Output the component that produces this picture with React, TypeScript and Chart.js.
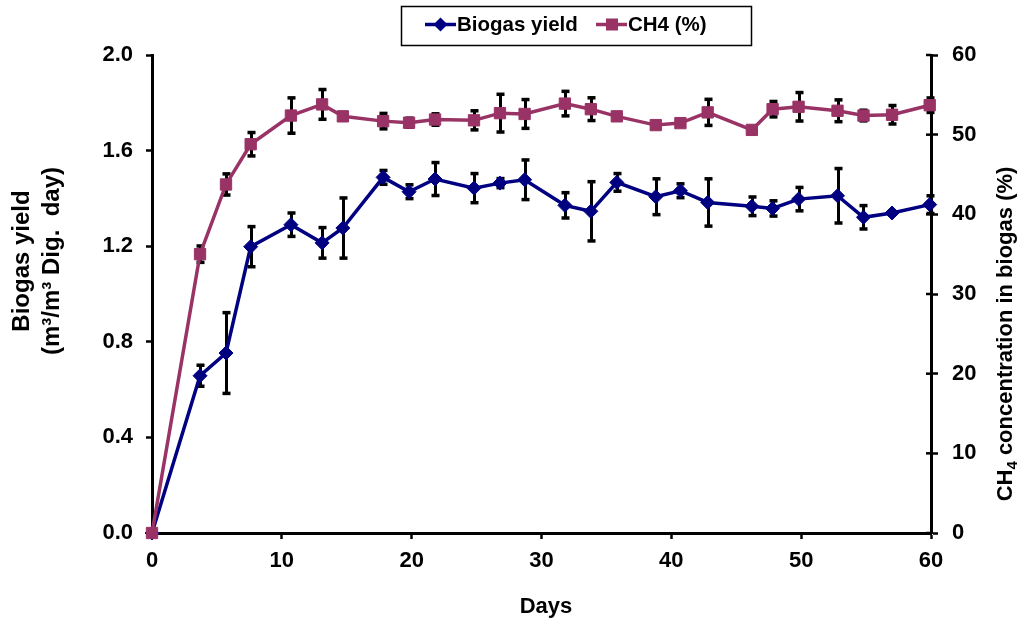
import React, { useEffect, useRef } from 'react';
import { Chart, registerables } from 'chart.js';

Chart.register(...registerables);

// ---- Data ----
const days = [0, 3.7, 5.7, 7.6, 10.7, 13.1, 14.7, 17.8, 19.8, 21.8, 24.8, 26.8, 28.7, 31.8, 33.8, 35.8, 38.8, 40.7, 42.8, 46.2, 47.8, 49.8, 52.8, 54.8, 57.0, 59.9];
const biogasYield = [0, 0.658, 0.753, 1.198, 1.29, 1.214, 1.276, 1.488, 1.428, 1.481, 1.443, 1.464, 1.478, 1.371, 1.346, 1.467, 1.407, 1.432, 1.383, 1.367, 1.358, 1.397, 1.411, 1.321, 1.339, 1.374];
const biogasErr = [0, 0.045, 0.17, 0.085, 0.05, 0.065, 0.127, 0.03, 0.03, 0.07, 0.062, 0.02, 0.084, 0.054, 0.125, 0.038, 0.076, 0.03, 0.1, 0.04, 0.033, 0.05, 0.115, 0.05, 0, 0.038];
const ch4Percent = [0, 35.0, 43.75, 48.8, 52.4, 53.8, 52.3, 51.7, 51.5, 51.9, 51.8, 52.7, 52.6, 53.9, 53.2, 52.3, 51.2, 51.45, 52.8, 50.6, 53.2, 53.5, 53.0, 52.4, 52.5, 53.7];
const ch4Err = [0, 1.06, 1.36, 1.5, 2.25, 1.9, 0.5, 1.0, 0.6, 0.75, 1.23, 2.4, 1.84, 1.57, 1.46, 0.3, 0.3, 0.3, 1.67, 0.3, 1.0, 1.82, 1.4, 0.7, 1.19, 0.94];

const seriesNames = ['Biogas yield', 'CH4 (%)'];
const xTitle = 'Days';
const leftTitleLines = ['Biogas yield', '(m³/m³ Dig.  day)'];
const rightTitleParts = ['CH', '4', ' concentration in biogas (%)'];

const FONT = '"Liberation Sans", Arial, Helvetica, sans-serif';
const BLUE = '#000080';
const MAGENTA = '#993366';

const errorBarPlugin = {
  id: 'errorBars',
  beforeDatasetsDraw(chart: any) {
    const ctx = chart.ctx;
    const xs = chart.scales.x;
    const draw = (vals: number[], errs: number[], scale: any) => {
      vals.forEach((v, i) => {
        const e = errs[i];
        if (!e) return;
        const px = Math.round(xs.getPixelForValue(days[i])) + 0.5;
        const top = scale.getPixelForValue(v + e);
        const bot = scale.getPixelForValue(v - e);
        ctx.beginPath();
        ctx.moveTo(px, top);
        ctx.lineTo(px, bot);
        ctx.stroke();
        ctx.fillRect(px - 4, top - 1.5, 8, 3.5);
        ctx.fillRect(px - 4, bot - 2, 8, 3.5);
      });
    };
    ctx.save();
    ctx.strokeStyle = '#000';
    ctx.fillStyle = '#000';
    ctx.lineWidth = 3;
    ctx.lineCap = 'butt';
    draw(ch4Percent, ch4Err, chart.scales.y1);
    draw(biogasYield, biogasErr, chart.scales.y);
    ctx.restore();
  },
};

function drawDiamond(ctx: CanvasRenderingContext2D, x: number, y: number, r: number, color: string) {
  ctx.beginPath();
  ctx.moveTo(x, y - r);
  ctx.lineTo(x + r, y);
  ctx.lineTo(x, y + r);
  ctx.lineTo(x - r, y);
  ctx.closePath();
  ctx.fillStyle = color;
  ctx.fill();
}

const decorPlugin = {
  id: 'decor',
  afterDraw(chart: any) {
    const ctx: CanvasRenderingContext2D = chart.ctx;
    const area = chart.chartArea;
    const y1 = chart.scales.y1;
    ctx.save();

    // inward part of right-axis cross ticks
    ctx.strokeStyle = '#000';
    ctx.lineWidth = 2.5;
    for (let v = 0; v <= 60; v += 10) {
      const py = y1.getPixelForValue(v);
      ctx.beginPath();
      ctx.moveTo(area.right - 5, py);
      ctx.lineTo(area.right, py);
      ctx.stroke();
    }

    ctx.fillStyle = '#000';
    // x title
    ctx.font = 'bold 22px ' + FONT;
    ctx.textAlign = 'center';
    ctx.textBaseline = 'alphabetic';
    ctx.fillText(xTitle, 546, 613);

    // left title (two lines)
    ctx.save();
    ctx.font = 'bold 24px ' + FONT;
    ctx.translate(29, 261);
    ctx.rotate(-Math.PI / 2);
    ctx.fillText(leftTitleLines[0], 0, 0);
    ctx.fillText(leftTitleLines[1], 0, 29.5);
    ctx.restore();

    // right title with subscript
    ctx.save();
    ctx.translate(1012, 334);
    ctx.rotate(-Math.PI / 2);
    const big = 'bold 22px ' + FONT;
    const small = 'bold 15px ' + FONT;
    ctx.font = big;
    const w1 = ctx.measureText(rightTitleParts[0]).width;
    const w3 = ctx.measureText(rightTitleParts[2]).width;
    ctx.font = small;
    const w2 = ctx.measureText(rightTitleParts[1]).width;
    let sx = -(w1 + w2 + w3) / 2;
    ctx.textAlign = 'left';
    ctx.font = big;
    ctx.fillText(rightTitleParts[0], sx, 0);
    sx += w1;
    ctx.font = small;
    ctx.fillText(rightTitleParts[1], sx, 5);
    sx += w2;
    ctx.font = big;
    ctx.fillText(rightTitleParts[2], sx, 0);
    ctx.restore();

    // legend
    ctx.strokeStyle = '#000';
    ctx.lineWidth = 1.5;
    ctx.strokeRect(401.5, 6.5, 350, 39);
    const ly = 24.5;
    ctx.lineWidth = 3.5;
    ctx.strokeStyle = BLUE;
    ctx.beginPath();
    ctx.moveTo(425, ly);
    ctx.lineTo(456, ly);
    ctx.stroke();
    drawDiamond(ctx, 440.5, ly, 7, BLUE);
    ctx.strokeStyle = MAGENTA;
    ctx.beginPath();
    ctx.moveTo(596, ly);
    ctx.lineTo(627, ly);
    ctx.stroke();
    ctx.fillStyle = MAGENTA;
    ctx.fillRect(606, ly - 6, 12, 12);
    ctx.fillStyle = '#000';
    ctx.font = 'bold 20.5px ' + FONT;
    ctx.textAlign = 'left';
    ctx.fillText(seriesNames[0], 457, 31);
    ctx.fillText(seriesNames[1], 628, 31);

    ctx.restore();
  },
};

export default function App() {
  const ref = useRef<HTMLCanvasElement>(null);
  useEffect(() => {
    const tickFont = { family: FONT, size: 22, weight: 'bold' as const };
    const chart = new Chart(ref.current as HTMLCanvasElement, {
      type: 'line',
      data: {
        datasets: [
          {
            label: seriesNames[0],
            data: days.map((d, i) => ({ x: d, y: biogasYield[i] })),
            borderColor: BLUE,
            backgroundColor: BLUE,
            borderWidth: 3.5,
            pointStyle: 'rectRot',
            pointRadius: 7,
            pointBorderWidth: 1,
            pointBackgroundColor: BLUE,
            pointBorderColor: BLUE,
            yAxisID: 'y',
            order: 1,
            clip: false,
            tension: 0,
          },
          {
            label: seriesNames[1],
            data: days.map((d, i) => ({ x: d, y: ch4Percent[i] })),
            borderColor: MAGENTA,
            backgroundColor: MAGENTA,
            borderWidth: 3.5,
            pointStyle: 'rect',
            pointRadius: 8,
            pointBorderWidth: 1,
            pointBackgroundColor: MAGENTA,
            pointBorderColor: MAGENTA,
            yAxisID: 'y1',
            order: 0,
            clip: false,
            tension: 0,
          },
        ],
      },
      options: {
        responsive: false,
        animation: false,
        events: [],
        layout: { padding: { top: 55, left: 0, right: 0, bottom: 0 } },
        plugins: {
          legend: { display: false },
          tooltip: { enabled: false },
          title: { display: false },
        },
        scales: {
          x: {
            type: 'linear',
            min: 0,
            max: 60,
            ticks: { stepSize: 10, font: tickFont, color: '#000', padding: 9, maxRotation: 0 },
            grid: { drawOnChartArea: false, drawTicks: true, tickLength: 6, tickWidth: 2.5, tickColor: '#000', color: '#000' },
            border: { display: true, color: '#000', width: 3 },
            afterFit: (s: any) => {
              s.height = 93;
            },
          },
          y: {
            type: 'linear',
            position: 'left',
            min: 0,
            max: 2,
            ticks: {
              stepSize: 0.4,
              font: tickFont,
              color: '#000',
              padding: 13,
              callback: (v: any) => Number(v).toFixed(1),
            },
            grid: { drawOnChartArea: false, drawTicks: true, tickLength: 6, tickWidth: 2.5, tickColor: '#000', color: '#000' },
            border: { display: true, color: '#000', width: 3 },
            afterFit: (s: any) => {
              s.width = 152;
            },
          },
          y1: {
            type: 'linear',
            position: 'right',
            min: 0,
            max: 60,
            ticks: { stepSize: 10, font: tickFont, color: '#000', padding: 14 },
            grid: { drawOnChartArea: false, drawTicks: true, tickLength: 7, tickWidth: 2.5, tickColor: '#000', color: '#000' },
            border: { display: true, color: '#000', width: 3 },
            afterFit: (s: any) => {
              s.width = 91;
            },
          },
        },
      },
      plugins: [errorBarPlugin, decorPlugin],
    } as any);
    return () => chart.destroy();
  }, []);
  return (
    <div style={{ position: 'fixed', left: 0, top: 0, width: 1022, height: 626, background: '#fff' }}>
      <canvas ref={ref} width={1022} height={626} style={{ display: 'block' }} />
    </div>
  );
}
